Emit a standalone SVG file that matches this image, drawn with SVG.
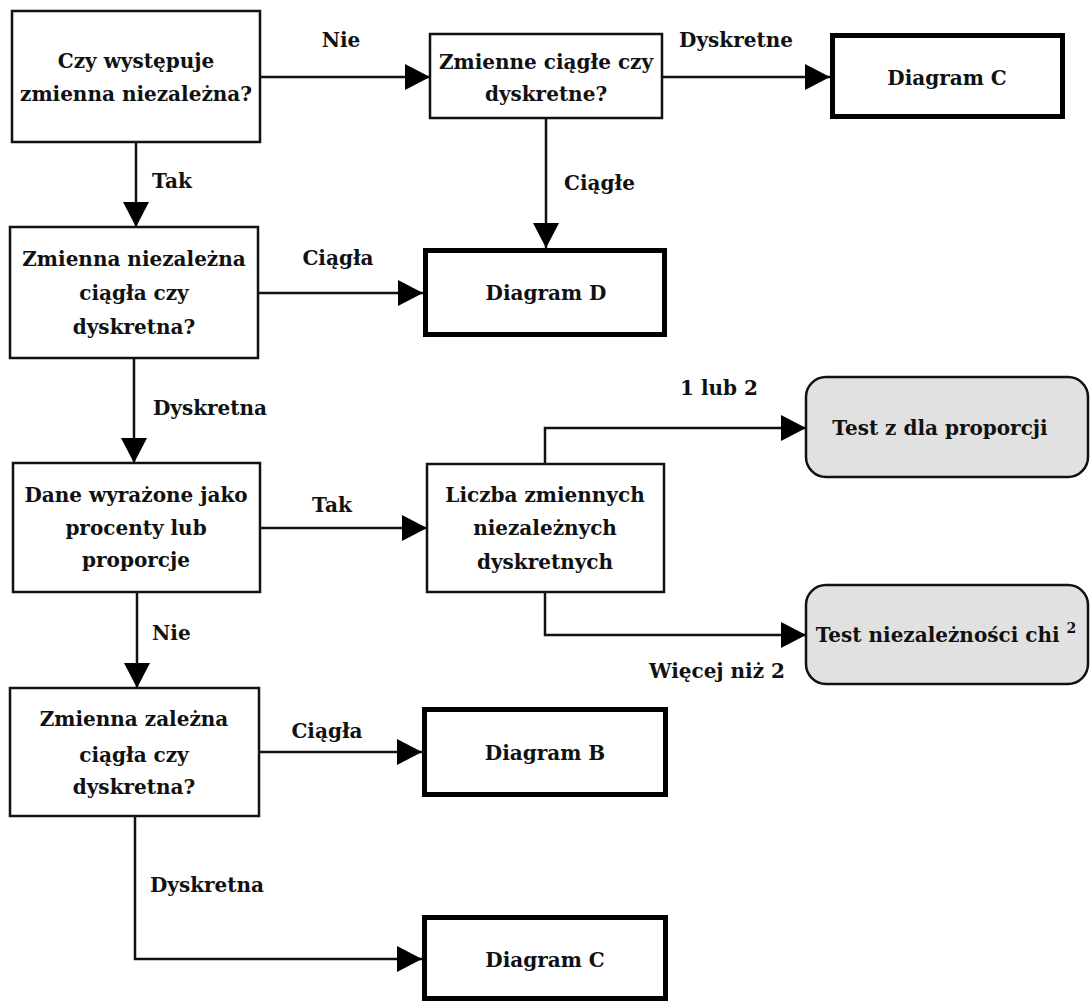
<svg xmlns="http://www.w3.org/2000/svg" width="1090" height="1003" viewBox="0 0 1090 1003">
<defs>
<marker id="ah" markerUnits="userSpaceOnUse" markerWidth="26" markerHeight="26" viewBox="0 0 26 26" refX="25" refY="13" orient="auto">
<path d="M0,0 L25,13 L0,26 Z" fill="#000"/>
</marker>
<style>
text{font-family:"DejaVu Serif","Liberation Serif",serif;font-weight:bold;font-size:20px;fill:#111;text-anchor:middle}
.lbl{text-anchor:start}
.box{fill:#fff;stroke:#111;stroke-width:2.5}
.tbox{fill:#fff;stroke:#000;stroke-width:5}
.gbox{fill:#e1e1e1;stroke:#111;stroke-width:2.5}
.conn{fill:none;stroke:#111;stroke-width:2.5;marker-end:url(#ah)}
</style>
</defs>
<rect width="1090" height="1003" fill="#fff"/>
<g id="connectors">
<path class="conn" d="M260,77 H430"/>
<path class="conn" d="M662,77 H830"/>
<path class="conn" d="M136,142 V227"/>
<path class="conn" d="M546,118 V248"/>
<path class="conn" d="M258,293 H423"/>
<path class="conn" d="M134,358 V463"/>
<path class="conn" d="M260,528 H427"/>
<path class="conn" d="M545,464 V428 H806"/>
<path class="conn" d="M545,592 V635 H806"/>
<path class="conn" d="M137,592 V688"/>
<path class="conn" d="M259,752 H422"/>
<path class="conn" d="M135,816 V959 H422"/>
<text x="341" y="47">Nie</text>
<text x="736" y="47">Dyskretne</text>
<text class="lbl" x="152" y="188">Tak</text>
<text class="lbl" x="564" y="190">Ciągłe</text>
<text x="338" y="265">Ciągła</text>
<text class="lbl" x="153" y="415">Dyskretna</text>
<text x="332" y="512">Tak</text>
<text x="719" y="395">1 lub 2</text>
<text x="717" y="678">Więcej niż 2</text>
<text class="lbl" x="152" y="640">Nie</text>
<text x="327" y="738">Ciągła</text>
<text class="lbl" x="150" y="892">Dyskretna</text>
</g>
<g id="n1">
<rect class="box" x="12" y="11" width="248" height="131"/>
<text x="136" y="68">Czy występuje</text>
<text x="136" y="101">zmienna niezależna?</text>
</g>
<g id="n2">
<rect class="box" x="430" y="34" width="232" height="84"/>
<text x="546" y="69">Zmienne ciągłe czy</text>
<text x="546" y="101">dyskretne?</text>
</g>
<g id="n3">
<rect class="tbox" x="832.5" y="35.5" width="230" height="81"/>
<text x="947" y="85">Diagram C</text>
</g>
<g id="n4">
<rect class="box" x="10" y="227" width="248" height="131"/>
<text x="134" y="266">Zmienna niezależna</text>
<text x="134" y="300">ciągła czy</text>
<text x="134" y="334">dyskretna?</text>
</g>
<g id="n5">
<rect class="tbox" x="425.5" y="250.5" width="239" height="84"/>
<text x="546" y="300">Diagram D</text>
</g>
<g id="n6">
<rect class="box" x="13" y="463" width="247" height="129"/>
<text x="136" y="502">Dane wyrażone jako</text>
<text x="136" y="535">procenty lub</text>
<text x="136" y="567">proporcje</text>
</g>
<g id="n7">
<rect class="box" x="427" y="464" width="237" height="128"/>
<text x="545" y="502">Liczba zmiennych</text>
<text x="545" y="535">niezależnych</text>
<text x="545" y="569">dyskretnych</text>
</g>
<g id="n8">
<rect class="gbox" x="806" y="377" width="282" height="100" rx="20" ry="20"/>
<text x="940" y="435">Test z dla proporcji</text>
</g>
<g id="n9">
<rect class="gbox" x="806" y="585" width="282" height="99" rx="20" ry="20"/>
<text x="946" y="642">Test niezależności chi <tspan font-size="14" dy="-9">2</tspan></text>
</g>
<g id="n10">
<rect class="box" x="10" y="688" width="249" height="128"/>
<text x="134" y="726">Zmienna zależna</text>
<text x="134" y="762">ciągła czy</text>
<text x="134" y="794">dyskretna?</text>
</g>
<g id="n11">
<rect class="tbox" x="424.5" y="709.5" width="241" height="85"/>
<text x="545" y="760">Diagram B</text>
</g>
<g id="n12">
<rect class="tbox" x="424.5" y="917.5" width="241" height="81"/>
<text x="545" y="967">Diagram C</text>
</g>
</svg>
